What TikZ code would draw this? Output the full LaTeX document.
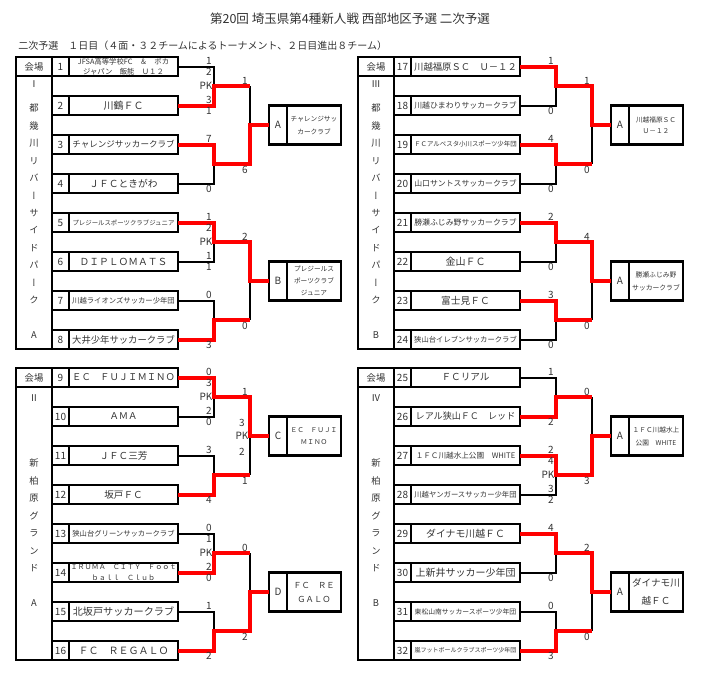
\documentclass[tikz,border=0pt]{standalone}
\usepackage{fontspec}
\setmainfont{Noto Sans CJK JP}
\newfontfamily\vfont[RawFeature=+vert]{Noto Sans CJK JP}
\definecolor{txt}{gray}{0.2}
\definecolor{wred}{RGB}{255,0,0}
\newcounter{scn}
\newcommand\teamrow[6]{%
  \node[numcell] (n#1) at ({#2+60.5},{#3+9.5}) {#1};
  \node[namecell, font=\fontsize{#4}{#5}\selectfont] (t#1) at ({#2+123.5},{#3+9.5}) {#6};
}
\newcommand\winner[7]{%
  \node[wl] (L#1) at ({#2+278},{#3}) {#4};
  \node[wn, font=\fontsize{#5}{#6}\selectfont] (W#1) at ({#2+314},{#3}) {#7};
}
\newcommand\mcoord[3]{%
  \coordinate (m#1) at ({#2+214},{#3});
  \coordinate (r#1) at ({#2+250},{#3});
}
\newcommand\scoord[3]{\coordinate (s#1) at ({#2+250},{#3});}
\newcommand\putscore[3]{\stepcounter{scn}\node[score] (sc\arabic{scn}) at (#1,#2) {#3};}
\begin{document}
\begin{tikzpicture}[x=0.75pt,y=-0.75pt,
  cell/.style={draw, line width=1.6pt, inner sep=0pt, outer sep=0pt, minimum height=14.25pt, text=txt},
  numcell/.style={cell, minimum width=12.75pt, font=\fontsize{7.5}{9}\selectfont},
  namecell/.style={cell, minimum width=81.75pt, align=center},
  vhead/.style={cell, minimum width=27pt, font=\fontsize{7}{9}\selectfont},
  vbody/.style={cell, minimum width=27pt, minimum height=204.75pt},
  vtext/.style={inner sep=0pt, text=txt, align=center, font=\vfont\fontsize{7}{13.1}\selectfont},
  wl/.style={cell, minimum width=13.5pt, minimum height=29.25pt, font=\fontsize{7.5}{9}\selectfont},
  wn/.style={cell, minimum width=40.5pt, minimum height=29.25pt, align=center},
  lose/.style={line width=1.5pt, black},
  win/.style={line width=3pt, wred, line join=miter},
  score/.style={inner sep=0pt, text=txt, font=\fontsize{7.5}{9}\selectfont}]
\useasboundingbox (0,0) rectangle (709,672);

\node[text=txt, font=\fontsize{9.4}{11}\selectfont] (title) at (350,19) {第20回 埼玉県第4種新人戦 西部地区予選 二次予選};
\node[text=txt, anchor=west, inner sep=0pt, font=\fontsize{7.5}{9}\selectfont] (sub) at (18,46) {二次予選　１日目（４面・３２チームによるトーナメント、２日目進出８チーム）};

% ---------- venues ----------
\node[vhead] (h1) at (34,66.5) {会場};
\node[vbody] (vb1) at (34,212.5) {};
\node[vtext] (vr1) at (34,84) {Ⅰ};
\node[vtext] (vs1) at (34,204) {都\\幾\\川\\リ\\バ\\ー\\サ\\イ\\ド\\パ\\ー\\ク};
\node[vtext] (va1) at (34,335) {A};

\node[vhead] (h3) at (376,66.5) {会場};
\node[vbody] (vb3) at (376,212.5) {};
\node[vtext] (vr3) at (376,84) {Ⅲ};
\node[vtext] (vs3) at (376,204) {都\\幾\\川\\リ\\バ\\ー\\サ\\イ\\ド\\パ\\ー\\ク};
\node[vtext] (va3) at (376,335) {B};

\node[vhead] (h2) at (34,377.5) {会場};
\node[vbody] (vb2) at (34,523.5) {};
\node[vtext] (vr2) at (34,398) {Ⅱ};
\node[vtext] (vs2) at (34,515.5) {新\\柏\\原\\グ\\ラ\\ン\\ド};
\node[vtext] (va2) at (34,603) {A};

\node[vhead] (h4) at (376,377.5) {会場};
\node[vbody] (vb4) at (376,523.5) {};
\node[vtext] (vr4) at (376,398) {Ⅳ};
\node[vtext] (vs4) at (376,515.5) {新\\柏\\原\\グ\\ラ\\ン\\ド};
\node[vtext] (va4) at (376,603) {B};

% ---------- teams ----------
\teamrow{1}{0}{57}{5.5}{7.5}{JFSA高等学校FC　＆　ボカ\\ジャパン　飯能　Ｕ１２}
\teamrow{2}{0}{96}{7.5}{9}{川鶴ＦＣ}
\teamrow{3}{0}{135}{6.4}{8}{チャレンジサッカークラブ}
\teamrow{4}{0}{174}{7.3}{9}{ＪＦＣときがわ}
\teamrow{5}{0}{213}{4.8}{6}{プレジールスポーツクラブジュニア}
\teamrow{6}{0}{252}{7.3}{9}{ＤＩＰＬＯＭＡＴＳ}
\teamrow{7}{0}{291}{5.5}{7}{川越ライオンズサッカー少年団}
\teamrow{8}{0}{330}{7}{9}{大井少年サッカークラブ}

\teamrow{17}{342}{57}{7}{9}{川越福原ＳＣ　Ｕ－１２}
\teamrow{18}{342}{96}{5.9}{7}{川越ひまわりサッカークラブ}
\teamrow{19}{342}{135}{4.8}{6}{ＦＣアルベスタ小川スポーツ少年団}
\teamrow{20}{342}{174}{5.9}{7}{山口サントスサッカークラブ}
\teamrow{21}{342}{213}{5.9}{7}{勝瀬ふじみ野サッカークラブ}
\teamrow{22}{342}{252}{7.5}{9}{金山ＦＣ}
\teamrow{23}{342}{291}{7.3}{9}{富士見ＦＣ}
\teamrow{24}{342}{330}{5.5}{7}{狭山台イレブンサッカークラブ}

\teamrow{9}{0}{368}{7}{9}{ＥＣ　ＦＵＪＩＭＩＮＯ}
\teamrow{10}{0}{407}{7}{9}{ＡＭＡ}
\teamrow{11}{0}{446}{7.2}{9}{ＪＦＣ三芳}
\teamrow{12}{0}{485}{7.2}{9}{坂戸ＦＣ}
\teamrow{13}{0}{524}{5.5}{7}{狭山台グリーンサッカークラブ}
\teamrow{14}{0}{563}{5.3}{8.5}{ＩＲＵＭＡ　ＣＩＴＹ　Ｆｏｏｔ\\ｂａｌｌ　Ｃｌｕｂ}
\teamrow{15}{0}{602}{7.6}{9}{北坂戸サッカークラブ}
\teamrow{16}{0}{641}{7.5}{9}{ＦＣ　ＲＥＧＡＬＯ}

\teamrow{25}{342}{368}{7.2}{9}{ＦＣリアル}
\teamrow{26}{342}{407}{6.8}{9}{レアル狭山ＦＣ　レッド}
\teamrow{27}{342}{446}{5.7}{7}{１ＦＣ川越水上公園　WHITE}
\teamrow{28}{342}{485}{5.5}{7}{川越ヤンガースサッカー少年団}
\teamrow{29}{342}{524}{7.4}{9}{ダイナモ川越ＦＣ}
\teamrow{30}{342}{563}{7.5}{9}{上新井サッカー少年団}
\teamrow{31}{342}{602}{5.1}{7}{東松山南サッカースポーツ少年団}
\teamrow{32}{342}{641}{4.5}{6}{嵐フットボールクラブスポーツ少年団}

% ---------- winners ----------
\winner{1}{0}{125}{A}{5}{9.75}{チャレンジサッ\\カークラブ}
\winner{2}{0}{281}{B}{5}{9}{プレジールス\\ポーツクラブ\\ジュニア}
\winner{5}{342}{125}{A}{5}{8.25}{川越福原ＳＣ\\Ｕ－１２}
\winner{6}{342}{281}{A}{5.1}{9.75}{勝瀬ふじみ野\\サッカークラブ}
\winner{3}{0}{436}{C}{5}{9}{ＥＣ　ＦＵＪＩ\\ＭＩＮＯ}
\winner{4}{0}{592}{D}{6.2}{10.5}{ＦＣ　ＲＥ\\ＧＡＬＯ}
\winner{7}{342}{436}{A}{5}{9.75}{１ＦＣ川越水上\\公園　WHITE}
\winner{8}{342}{592}{A}{7.2}{13.5}{ダイナモ川\\越ＦＣ}

% ---------- junctions ----------
\mcoord{1}{0}{86}\mcoord{2}{0}{164}\mcoord{3}{0}{242}\mcoord{4}{0}{320}
\mcoord{9}{342}{86}\mcoord{10}{342}{164}\mcoord{11}{342}{242}\mcoord{12}{342}{320}
\mcoord{5}{0}{397}\mcoord{6}{0}{475}\mcoord{7}{0}{553}\mcoord{8}{0}{631}
\mcoord{13}{342}{397}\mcoord{14}{342}{475}\mcoord{15}{342}{553}\mcoord{16}{342}{631}
\scoord{1}{0}{125}\scoord{2}{0}{281}\scoord{5}{342}{125}\scoord{6}{342}{281}
\scoord{3}{0}{436}\scoord{4}{0}{592}\scoord{7}{342}{436}\scoord{8}{342}{592}

% ---------- losing lines ----------
\draw[lose] (t1.east) -| (m1);
\draw[lose] (t4.east) -| (m2);
\draw[lose] (r1) -- (s1);
\draw[lose] (t6.east) -| (m3);
\draw[lose] (t7.east) -| (m4);
\draw[lose] (r4) -- (s2);

\draw[lose] (t18.east) -| (m9);
\draw[lose] (t20.east) -| (m10);
\draw[lose] (r10) -- (s5);
\draw[lose] (t22.east) -| (m11);
\draw[lose] (t24.east) -| (m12);
\draw[lose] (r12) -- (s6);

\draw[lose] (t10.east) -| (m5);
\draw[lose] (t11.east) -| (m6);
\draw[lose] (r6) -- (s3);
\draw[lose] (t13.east) -| (m7);
\draw[lose] (t15.east) -| (m8);
\draw[lose] (r7) -- (s4);

\draw[lose] (t25.east) -| (m13);
\draw[lose] (t28.east) -| (m14);
\draw[lose] (r13) -- (s7);
\draw[lose] (t30.east) -| (m15);
\draw[lose] (t31.east) -| (m16);
\draw[lose] (r16) -- (s8);

% ---------- winning lines ----------
\draw[win] (t2.east) -| (m1) -- (r1);
\draw[win] (t3.east) -| (m2) -- (r2) -- (s1) -- (L1.west);
\draw[win] (t5.east) -| (m3) -- (r3) -- (s2) -- (L2.west);
\draw[win] (t8.east) -| (m4) -- (r4);

\draw[win] (t17.east) -| (m9) -- (r9) -- (s5) -- (L5.west);
\draw[win] (t19.east) -| (m10) -- (r10);
\draw[win] (t21.east) -| (m11) -- (r11) -- (s6) -- (L6.west);
\draw[win] (t23.east) -| (m12) -- (r12);

\draw[win] (t9.east) -| (m5) -- (r5) -- (s3) -- (L3.west);
\draw[win] (t12.east) -| (m6) -- (r6);
\draw[win] (t14.east) -| (m7) -- (r7);
\draw[win] (t16.east) -| (m8) -- (r8) -- (s4) -- (L4.west);

\draw[win] (t26.east) -| (m13) -- (r13);
\draw[win] (t27.east) -| (m14) -- (r14) -- (s7) -- (L7.west);
\draw[win] (t29.east) -| (m15) -- (r15) -- (s8) -- (L8.west);
\draw[win] (t32.east) -| (m16) -- (r16);

% ---------- scores ----------
\putscore{209}{61}{1}\putscore{209}{72}{2}\putscore{206}{86}{PK}\putscore{209}{100}{3}\putscore{209}{111}{1}
\putscore{209}{139}{7}\putscore{209}{189}{0}
\putscore{245}{80.5}{1}\putscore{245}{169.5}{6}
\putscore{209}{217}{1}\putscore{209}{228}{2}\putscore{206}{242}{PK}\putscore{209}{256}{1}\putscore{209}{267}{1}
\putscore{209}{295}{0}\putscore{209}{345}{3}
\putscore{245}{236.5}{2}\putscore{245}{325.5}{0}

\putscore{551}{61}{1}\putscore{551}{111}{0}\putscore{551}{139}{4}\putscore{551}{189}{0}
\putscore{587}{80.5}{1}\putscore{587}{169.5}{0}
\putscore{551}{217}{2}\putscore{551}{267}{0}\putscore{551}{295}{3}\putscore{551}{345}{0}
\putscore{587}{236.5}{4}\putscore{587}{325.5}{0}

\putscore{209}{372}{0}\putscore{209}{383}{3}\putscore{206}{397}{PK}\putscore{209}{411}{2}\putscore{209}{422}{0}
\putscore{209}{450}{3}\putscore{209}{500}{4}
\putscore{245}{391.5}{1}\putscore{245}{480.5}{1}
\putscore{242}{423}{3}\putscore{242}{436}{PK}\putscore{242}{452}{2}
\putscore{209}{528}{0}\putscore{209}{539}{1}\putscore{206}{553}{PK}\putscore{209}{567}{2}\putscore{209}{578}{0}
\putscore{209}{606}{1}\putscore{209}{656}{2}
\putscore{245}{547.5}{0}\putscore{245}{636.5}{2}

\putscore{551}{372}{1}\putscore{551}{422}{2}
\putscore{551}{450}{2}\putscore{551}{461}{4}\putscore{548}{475}{PK}\putscore{551}{489}{3}\putscore{551}{500}{2}
\putscore{587}{391.5}{0}\putscore{587}{480.5}{3}
\putscore{551}{528}{4}\putscore{551}{578}{0}\putscore{551}{606}{0}\putscore{551}{656}{3}
\putscore{587}{547.5}{2}\putscore{587}{636.5}{0}
\end{tikzpicture}
\end{document}
